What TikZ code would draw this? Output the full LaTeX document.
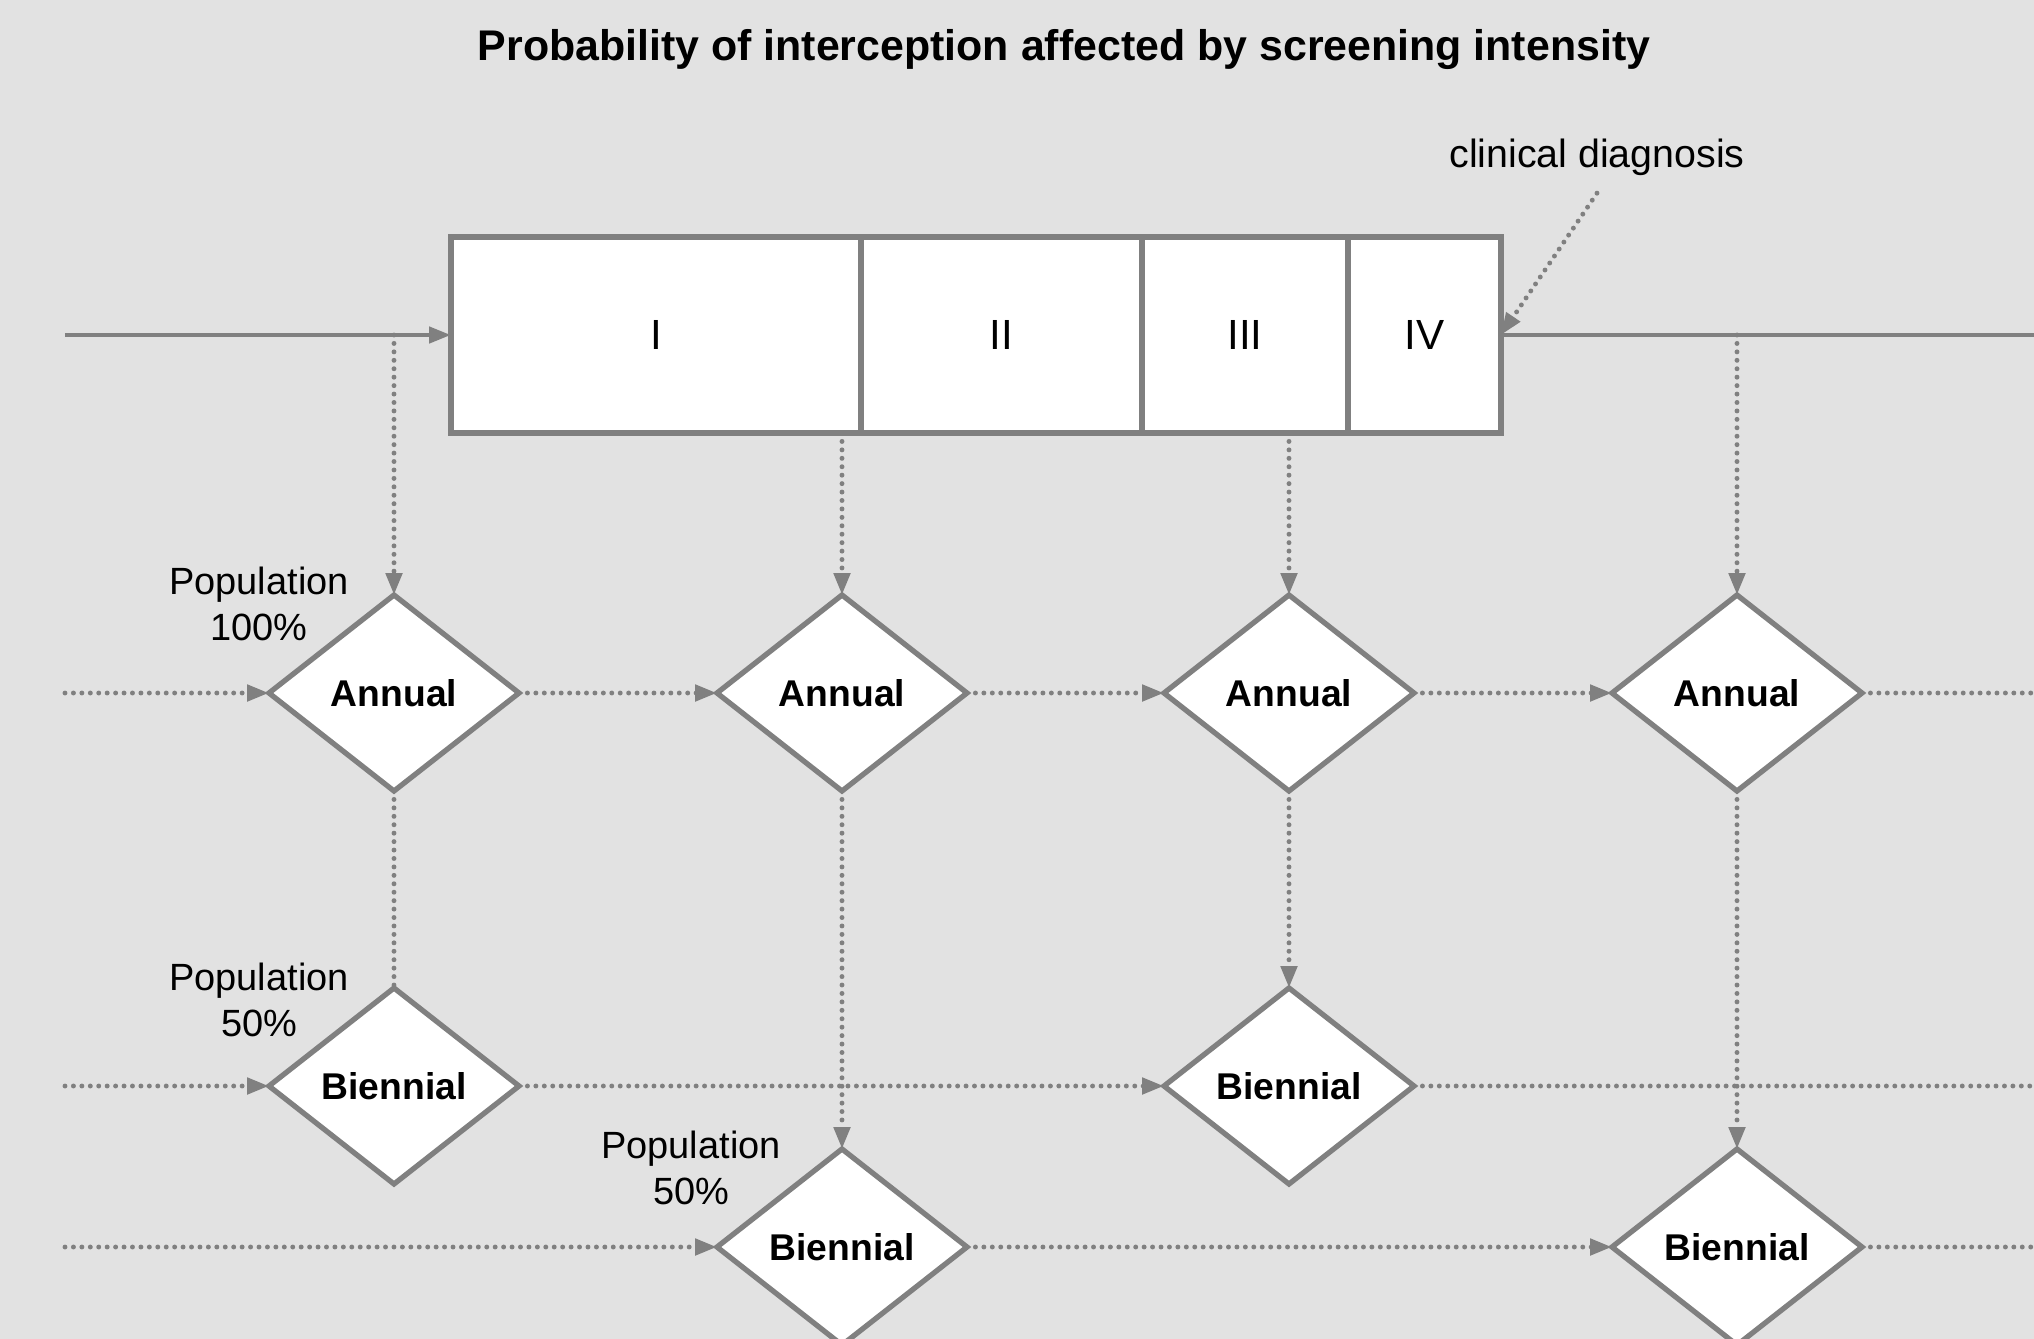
\documentclass[tikz,border=0pt]{standalone}
\usepackage{fontspec}
\setmainfont{Liberation Sans}
\usetikzlibrary{shapes.geometric,arrows.meta,positioning}
\definecolor{bggrey}{HTML}{E2E2E2}
\definecolor{linegrey}{HTML}{808080}

\tikzset{every picture/.style={line width=1.2pt}}
\tikzset{
	stage/.style={rectangle,draw=linegrey,fill=white,line width=1.5pt,minimum height=1.96cm,inner sep=0pt,outer sep=0pt,font=\fontsize{12}{14}\selectfont},
	screen/.style={diamond,draw=linegrey,fill=white,line width=1.5pt,minimum width=2.5cm,minimum height=1.96cm,inner sep=0pt,outer sep=0pt,font=\bfseries\fontsize{10.6}{12}\selectfont},
	solidline/.style={draw=linegrey,line width=1.3pt},
	dotline/.style={draw=linegrey,line width=1.4pt,line cap=round,dash pattern=on 0pt off 2.4pt},
	pointer/.style={-{Triangle[length=2.2mm,width=1.6mm]}},
	poplabel/.style={align=center,font=\fontsize{10.8}{13}\selectfont}
}

\begin{document}
\begin{tikzpicture}
			\fill [bggrey] (0,0) rectangle (20.34,-13.39);
			\useasboundingbox (0,0) rectangle (20.34,-13.39);
			\clip (0,0) rectangle (20.34,-13.39);

			\node [font=\bfseries\fontsize{12.2}{14}\selectfont](title) at (10.64,-0.5) {Probability of interception affected by screening intensity};

			% stages
			\node [stage,minimum width=4.10cm](s1) at (6.56,-3.35) {I};
			\node [stage,minimum width=2.81cm,right=0pt of s1](s2) {II};
			\node [stage,minimum width=2.06cm,right=0pt of s2](s3) {III};
			\node [stage,minimum width=1.53cm,right=0pt of s3](s4) {IV};
			\node [poplabel,font=\fontsize{11.2}{13}\selectfont](clin) at (15.97,-1.57) {clinical diagnosis};

			% screening rounds
			\node [screen](a1) at (3.94,-6.93) {Annual};
			\node [screen](a2) at (8.42,-6.93) {Annual};
			\node [screen](a3) at (12.89,-6.93) {Annual};
			\node [screen](a4) at (17.37,-6.93) {Annual};
			\node [screen](b1) at (3.94,-10.86) {Biennial};
			\node [screen](b3) at (12.89,-10.86) {Biennial};
			\node [screen](c2) at (8.42,-12.47) {Biennial};
			\node [screen](c4) at (17.37,-12.47) {Biennial};

			\node [poplabel](p1) at (2.59,-6.04) {Population\\100\%};
			\node [poplabel](p2) at (2.59,-10.0) {Population\\50\%};
			\node [poplabel](p3) at (6.91,-11.68) {Population\\50\%};

			\coordinate (start) at (0.65,-3.35);
			\coordinate (end) at (20.34,-3.35);
			\coordinate (m1) at (3.94,-3.35);
			\coordinate (m4) at (17.37,-3.35);
			\coordinate (ra) at (0.65,-6.93);
			\coordinate (ea) at (20.34,-6.93);
			\coordinate (rb) at (0.65,-10.86);
			\coordinate (eb) at (20.34,-10.86);
			\coordinate (rc) at (0.65,-12.47);
			\coordinate (ec) at (20.34,-12.47);

			\draw [solidline,pointer] (start) -- (s1.west);
			\draw [solidline] (s4.east) -- (end);
			\draw [dotline,pointer] ([yshift=-0.4mm]clin.south) -- (s4.east);

			\draw [dotline,pointer] (m1) -- (a1.north);
			\draw [dotline,pointer] (a2 |- s1.south) -- (a2.north);
			\draw [dotline,pointer] (a3 |- s3.south) -- (a3.north);
			\draw [dotline,pointer] (m4) -- (a4.north);
			\draw [dotline] (a1.south) -- (b1.north);
			\draw [dotline,pointer] (a2.south) -- (c2.north);
			\draw [dotline,pointer] (a3.south) -- (b3.north);
			\draw [dotline,pointer] (a4.south) -- (c4.north);

			\draw [dotline,pointer] (ra) -- (a1.west);
			\draw [dotline,pointer] (a1.east) -- (a2.west);
			\draw [dotline,pointer] (a2.east) -- (a3.west);
			\draw [dotline,pointer] (a3.east) -- (a4.west);
			\draw [dotline] (a4.east) -- (ea);
			\draw [dotline,pointer] (rb) -- (b1.west);
			\draw [dotline,pointer] (b1.east) -- (b3.west);
			\draw [dotline] (b3.east) -- (eb);
			\draw [dotline,pointer] (rc) -- (c2.west);
			\draw [dotline,pointer] (c2.east) -- (c4.west);
			\draw [dotline] (c4.east) -- (ec);
		\end{tikzpicture}
\end{document}
